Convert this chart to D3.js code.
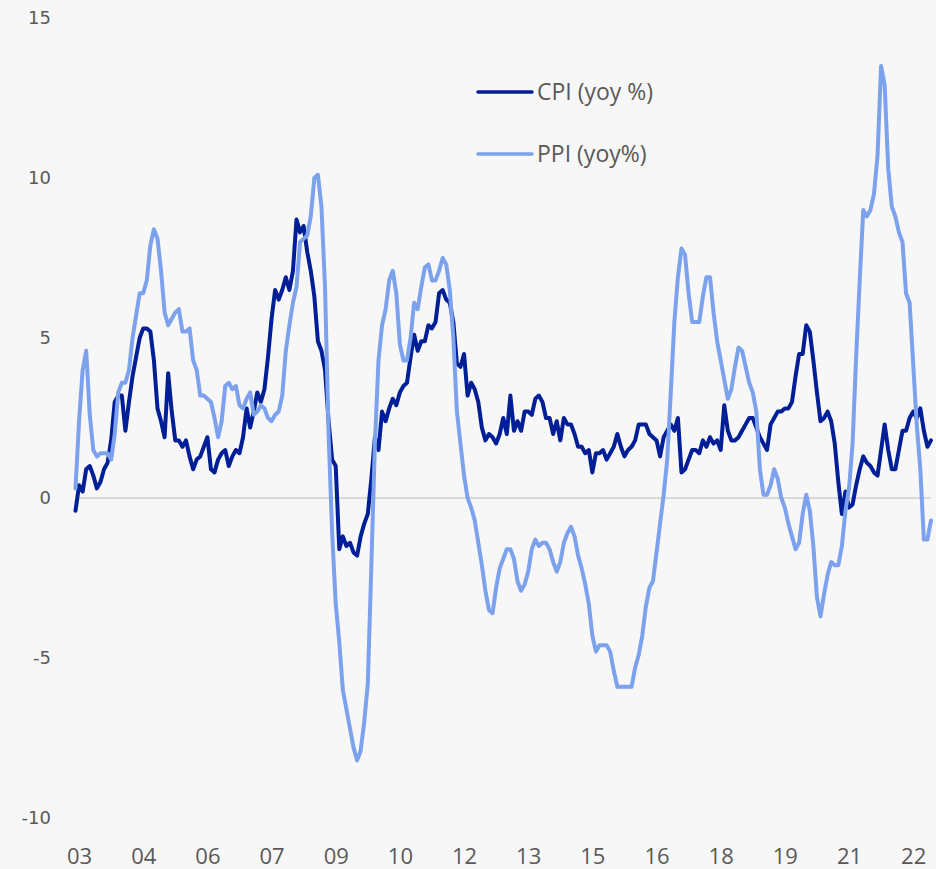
<!DOCTYPE html>
<meta charset="utf-8">
<script src="https://cdn.jsdelivr.net/npm/d3@7"></script>
<style>
  body {
    margin: 0;
    background: #f7f7f7;
  }

  #wrapper {
    width: 936px;
    height: 869px;
  }

  .axis text {
    fill: #595959;
  }
</style>

<div id="wrapper"></div>

<script>
  // monthly series, Dec 2002 .. Dec 2022 (yoy %)
  const firstMonth = new Date(2002, 11, 1);
  const lastMonth = new Date(2022, 11, 1);

  const cpi = [
    -0.4,
    0.4, 0.2, 0.9, 1.0, 0.7, 0.3, 0.5, 0.9, 1.1, 1.8, 3.0, 3.2,
    3.2, 2.1, 3.0, 3.8, 4.4, 5.0, 5.3, 5.3, 5.2, 4.3, 2.8, 2.4,
    1.9, 3.9, 2.7, 1.8, 1.8, 1.6, 1.8, 1.3, 0.9, 1.2, 1.3, 1.6,
    1.9, 0.9, 0.8, 1.2, 1.4, 1.5, 1.0, 1.3, 1.5, 1.4, 1.9, 2.8,
    2.2, 2.7, 3.3, 3.0, 3.4, 4.4, 5.6, 6.5, 6.2, 6.5, 6.9, 6.5,
    7.1, 8.7, 8.3, 8.5, 7.7, 7.1, 6.3, 4.9, 4.6, 4.0, 2.4, 1.2,
    1.0, -1.6, -1.2, -1.5, -1.4, -1.7, -1.8, -1.2, -0.8, -0.5, 0.6, 1.9,
    1.5, 2.7, 2.4, 2.8, 3.1, 2.9, 3.3, 3.5, 3.6, 4.4, 5.1, 4.6,
    4.9, 4.9, 5.4, 5.3, 5.5, 6.4, 6.5, 6.2, 6.1, 5.5, 4.2, 4.1,
    4.5, 3.2, 3.6, 3.4, 3.0, 2.2, 1.8, 2.0, 1.9, 1.7, 2.0, 2.5,
    2.0, 3.2, 2.1, 2.4, 2.1, 2.7, 2.7, 2.6, 3.1, 3.2, 3.0, 2.5,
    2.5, 2.0, 2.4, 1.8, 2.5, 2.3, 2.3, 2.0, 1.6, 1.6, 1.4, 1.5,
    0.8, 1.4, 1.4, 1.5, 1.2, 1.4, 1.6, 2.0, 1.6, 1.3, 1.5, 1.6,
    1.8, 2.3, 2.3, 2.3, 2.0, 1.9, 1.8, 1.3, 1.9, 2.1, 2.3, 2.1,
    2.5, 0.8, 0.9, 1.2, 1.5, 1.5, 1.4, 1.8, 1.6, 1.9, 1.7, 1.8,
    1.5, 2.9, 2.1, 1.8, 1.8, 1.9, 2.1, 2.3, 2.5, 2.5, 2.2, 1.9,
    1.7, 1.5, 2.3, 2.5, 2.7, 2.7, 2.8, 2.8, 3.0, 3.8, 4.5, 4.5,
    5.4, 5.2, 4.3, 3.3, 2.4, 2.5, 2.7, 2.4, 1.7, 0.5, -0.5, 0.2,
    -0.3, -0.2, 0.4, 0.9, 1.3, 1.1, 1.0, 0.8, 0.7, 1.5, 2.3, 1.5,
    0.9, 0.9, 1.5, 2.1, 2.1, 2.5, 2.7, 2.5, 2.8, 2.1, 1.6, 1.8
  ];

  const ppi = [
    0.3,
    2.4, 4.0, 4.6, 2.6, 1.5, 1.3, 1.4, 1.4, 1.4, 1.2, 2.0, 3.3,
    3.6, 3.6, 4.0, 5.0, 5.7, 6.4, 6.4, 6.8, 7.9, 8.4, 8.1, 7.1,
    5.8, 5.4, 5.6, 5.8, 5.9, 5.2, 5.2, 5.3, 4.3, 4.0, 3.2, 3.2,
    3.1, 3.0, 2.5, 1.9, 2.4, 3.5, 3.6, 3.4, 3.5, 2.9, 2.8, 3.1,
    3.3, 2.6, 2.7, 2.9, 2.8, 2.5, 2.4, 2.6, 2.7, 3.2, 4.6, 5.4,
    6.1, 6.6, 8.0, 8.1, 8.2, 8.8, 10.0, 10.1, 9.1, 6.6, 2.0, -1.1,
    -3.3, -4.5, -6.0, -6.6, -7.2, -7.8, -8.2, -7.9, -7.0, -5.8, -2.1, 1.7,
    4.3, 5.4, 5.9, 6.8, 7.1, 6.4, 4.8, 4.3, 4.3, 5.0, 6.1, 5.9,
    6.6, 7.2, 7.3, 6.8, 6.8, 7.1, 7.5, 7.3, 6.5, 5.0, 2.7, 1.7,
    0.7, 0.0, -0.3, -0.7, -1.4, -2.1, -2.9, -3.5, -3.6, -2.8, -2.2, -1.9,
    -1.6, -1.6, -1.9, -2.6, -2.9, -2.7, -2.3, -1.6, -1.3, -1.5, -1.4, -1.4,
    -1.6, -2.0, -2.3, -2.0, -1.4, -1.1, -0.9, -1.2, -1.8, -2.2, -2.7, -3.3,
    -4.3, -4.8, -4.6, -4.6, -4.6, -4.8, -5.4, -5.9, -5.9, -5.9, -5.9, -5.9,
    -5.3, -4.9, -4.3, -3.4, -2.8, -2.6, -1.7, -0.8, 0.1, 1.2, 3.3, 5.5,
    6.9, 7.8, 7.6, 6.4, 5.5, 5.5, 5.5, 6.3, 6.9, 6.9, 5.8, 4.9,
    4.3, 3.7, 3.1, 3.4, 4.1, 4.7, 4.6, 4.1, 3.6, 3.3, 2.7, 0.9,
    0.1, 0.1, 0.4, 0.9, 0.6, 0.0, -0.3, -0.8, -1.2, -1.6, -1.4, -0.5,
    0.1, -0.4, -1.5, -3.1, -3.7, -3.0, -2.4, -2.0, -2.1, -2.1, -1.5, -0.4,
    0.3, 1.7, 4.4, 6.8, 9.0, 8.8, 9.0, 9.5, 10.7, 13.5, 12.9, 10.3,
    9.1, 8.8, 8.3, 8.0, 6.4, 6.1, 4.2, 2.3, 0.9, -1.3, -1.3, -0.7
  ];

  const xTickMonths = ["2003-01", "2004-07", "2006-01", "2007-07", "2009-01", "2010-07", "2012-01",
    "2013-07", "2015-01", "2016-07", "2018-01", "2019-07", "2021-01", "2022-07"];
  const yTicks = [-10, -5, 0, 5, 10, 15];
  const seriesNames = ["CPI (yoy %)", "PPI (yoy%)"];
  const seriesColors = ["#001e96", "#7ca1ed"];

  const width = 936, height = 869;

  const fmt = d3.timeFormat("%Y-%m");
  const months = d3.timeMonth.range(firstMonth, d3.timeMonth.offset(lastMonth, 1)).map(fmt);

  const svg = d3.select("#wrapper")
    .append("svg")
    .attr("width", width)
    .attr("height", height);

  svg.append("rect")
    .attr("width", width)
    .attr("height", height)
    .attr("fill", "#f7f7f7");

  // X scale: one point per month
  const x = d3.scalePoint()
    .domain(months)
    .range([75.5, 931]);

  // Y scale
  const y = d3.scaleLinear()
    .domain([-10, 15])
    .range([818, 18]);

  // zero line
  svg.append("line")
    .attr("x1", 78)
    .attr("x2", 931)
    .attr("y1", y(0))
    .attr("y2", y(0))
    .attr("stroke", "#d9d9d9")
    .attr("stroke-width", 2);

  // Y axis (labels only, plain hyphen for negatives)
  const yAxis = svg.append("g")
    .attr("class", "axis")
    .attr("transform", "translate(51,0)")
    .call(d3.axisLeft(y).tickValues(yTicks).tickFormat(d => String(d)).tickSize(0).tickPadding(0));
  yAxis.select(".domain").remove();
  yAxis.selectAll("text")
    .style("font-family", "DejaVu Sans")
    .style("font-size", "18px");

  // X axis (labels only)
  const xAxis = svg.append("g")
    .attr("class", "axis")
    .attr("transform", "translate(0,848)")
    .call(d3.axisBottom(x).tickValues(xTickMonths).tickFormat(m => m.slice(2, 4)).tickSize(0).tickPadding(0));
  xAxis.select(".domain").remove();
  xAxis.selectAll("text")
    .style("font-family", "Open Sans")
    .style("font-size", "22px");

  // lines
  const line = d3.line()
    .x((d, i) => x(months[i]))
    .y(d => y(d));

  [cpi, ppi].forEach((series, k) => {
    svg.append("path")
      .datum(series)
      .attr("fill", "none")
      .attr("stroke", seriesColors[k])
      .attr("stroke-width", 4)
      .attr("stroke-linejoin", "round")
      .attr("stroke-linecap", "round")
      .attr("d", line);
  });

  // legend
  const legend = svg.append("g")
    .attr("transform", "translate(478,92)");

  seriesNames.forEach((name, k) => {
    const row = legend.append("g")
      .attr("transform", `translate(0,${k * 62})`);
    row.append("line")
      .attr("x1", 0)
      .attr("x2", 54)
      .attr("stroke", seriesColors[k])
      .attr("stroke-width", 3.5)
      .attr("stroke-linecap", "round");
    row.append("text")
      .attr("x", 59)
      .attr("dy", "0.35em")
      .style("font-family", "Open Sans")
      .style("font-size", "23px")
      .style("fill", "#595959")
      .text(name);
  });
</script>
